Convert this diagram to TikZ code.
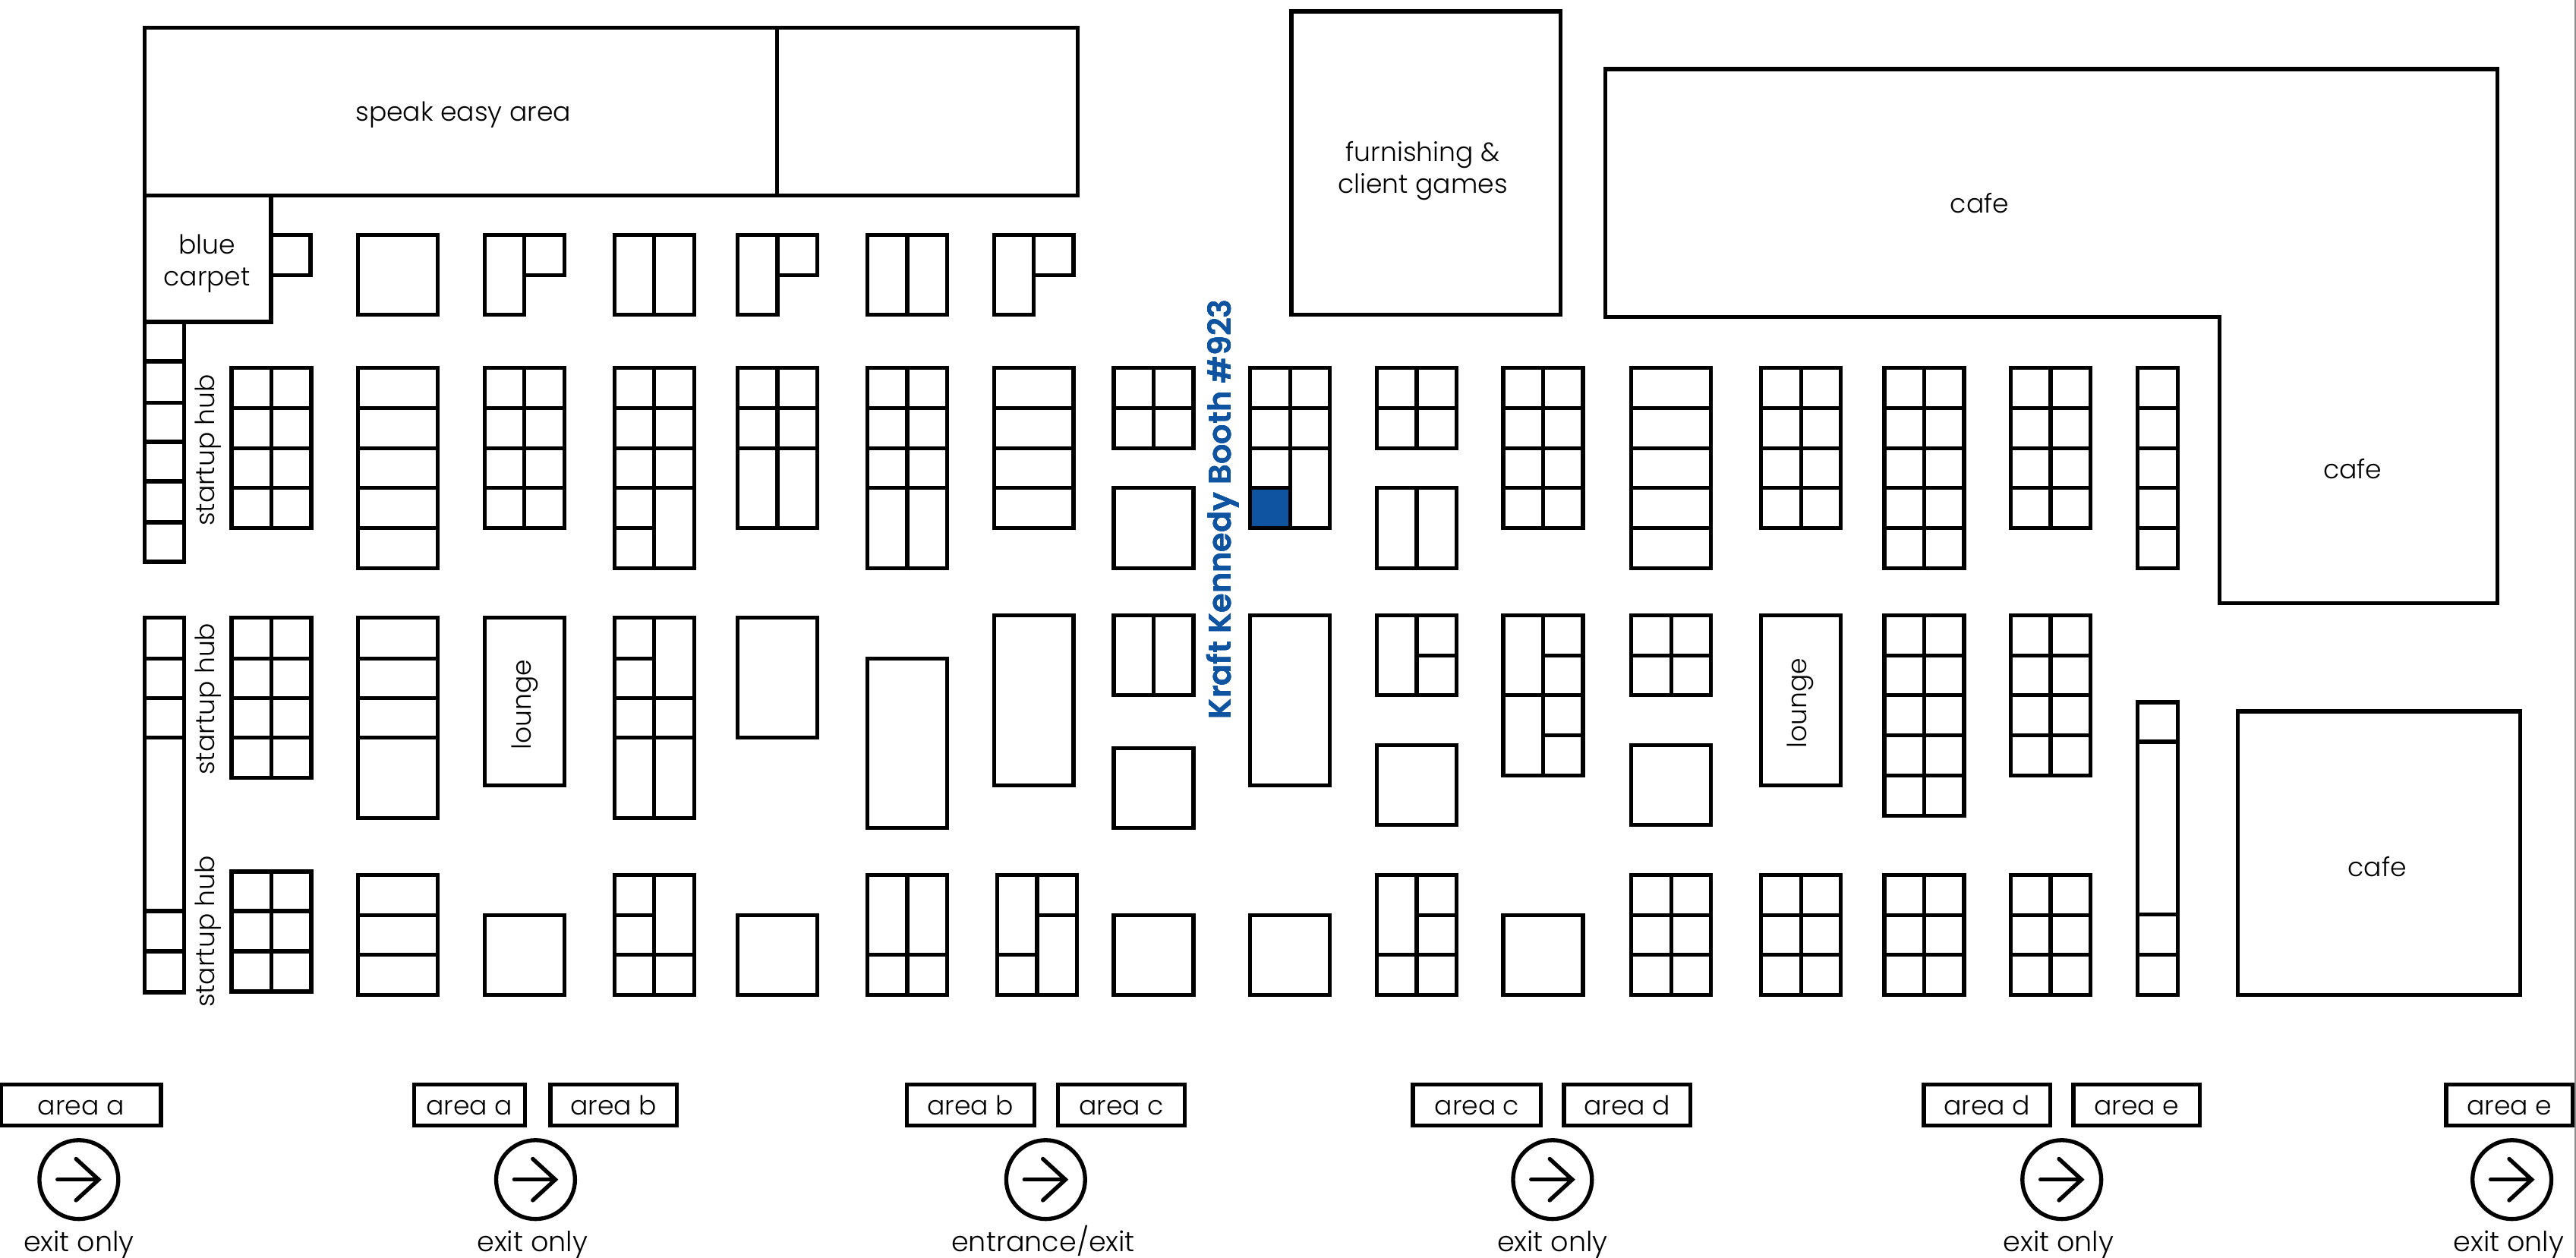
\documentclass[tikz,border=0pt]{standalone}
\usepackage{fontspec}
\setmainfont{Poppins}[UprightFont=* Light,BoldFont=* SemiBold]
\definecolor{kkblue}{RGB}{15,84,160}
\tikzset{
  wall/.style={line width=1.4pt},
  lbl/.style={font=\fontsize{9.1}{10.9}\selectfont,align=center,inner sep=0pt},
  sign/.style={lbl,text height=1.55ex,text depth=0.45ex},
  hub/.style={sign,rotate=90},
}
% booth with a centre wall and full rows
\newcommand{\gridbooth}[4]{%
  \draw[wall] (#1,#2) rectangle ({#1+48.5},#3);
  \draw[wall] ({#1+24.25},#2) -- ({#1+24.25},#3);
  \foreach \y in {#4} \draw[wall] (#1,\y) -- ({#1+48.5},\y);
}
% booth with full rows only
\newcommand{\rowbooth}[4]{%
  \draw[wall] (#1,#2) rectangle ({#1+48.5},#3);
  \foreach \y in {#4} \draw[wall] (#1,\y) -- ({#1+48.5},\y);
}
\begin{document}
\begin{tikzpicture}[x=0.02cm,y=-0.02cm]
  \useasboundingbox (0,0) rectangle (1568,765.3);
  % Page edge
  \draw[black!45,line width=0.4pt] (1567.6,0) -- (1567.6,765.3);
  % Top rooms
  \draw[wall] (88,17) rectangle (656,119);
  \draw[wall] (473,17) -- (473,119);
  \node[lbl] (speak) at (282,70) {speak easy area};
  \draw[wall] (88,119) rectangle (165,196);
  \node[lbl] (carpet) at (126,160.5) {blue\\carpet};
  \draw[wall] (165,143) rectangle (189,167.5);
  \draw[wall] (786,7) rectangle (950,191.5);
  \node[lbl] (games) at (866,104) {furnishing \&\\client games};
  % Cafes
  \draw[wall] (977,42) -- (1520,42) -- (1520,367) -- (1351,367) -- (1351,193) -- (977,193) -- cycle;
  \node[lbl] (cafea) at (1205,123.5) {cafe};
  \node[lbl] (cafeb) at (1432,285.5) {cafe};
  \draw[wall] (1362,433) rectangle (1534,605.5);
  \node[lbl] (cafec) at (1447,527.5) {cafe};
  % Front row
  \draw[wall] (218,143) rectangle (266.5,191.5);
  \foreach \x in {374,528} {
    \draw[wall] (\x,143) rectangle ({\x+48.5},191.5);
    \draw[wall] ({\x+24.25},143) -- ({\x+24.25},191.5);
  }
  \foreach \x in {295,449,605} {
    \draw[wall] (\x,143) rectangle ({\x+24.25},191.5);
    \draw[wall] ({\x+24.25},143) rectangle ({\x+48.5},167.5);
  }
  % Left strips
  \draw[wall] (88,196) rectangle (112,342);
  \foreach \y in {220,245,269,293,318} \draw[wall] (88,\y) -- (112,\y);
  \draw[wall] (88,376) rectangle (112,604);
  \foreach \y in {401,425,449,554.5,579} \draw[wall] (88,\y) -- (112,\y);
  \node[hub] (huba) at (125.5,274) {startup hub};
  \node[hub] (hubb) at (125.5,425.5) {startup hub};
  \node[hub] (hubc) at (125.5,567) {startup hub};
  % Second row
  \foreach \x in {141,295,915,1072,1224} \gridbooth{\x}{224}{321.5}{248.5,273,297}
  \gridbooth{528}{224}{346}{248.5,273,297}
  \gridbooth{1147}{224}{346}{248.5,273,297,321.5}
  \gridbooth{374}{224}{346}{248.5,273,297}
  \draw[wall] (374,321.5) -- (398.25,321.5);
  \gridbooth{449}{224}{321.5}{248.5,273}
  \foreach \x in {218,993} \rowbooth{\x}{224}{346}{248.5,273,297,321.5}
  \rowbooth{605}{224}{321.5}{248.5,273,297}
  \draw[wall] (1301,224) rectangle (1325.5,346);
  \foreach \y in {248.5,273,297,321.5} \draw[wall] (1301,\y) -- (1325.5,\y);
  \foreach \x in {678,838} \gridbooth{\x}{224}{273}{248.5}
  \draw[wall] (678,297) rectangle (726.5,346);
  \gridbooth{761}{224}{321.5}{248.5,273}
  \draw[wall,fill=kkblue] (761,297) rectangle (785.25,321.5);
  \gridbooth{838}{297}{346}{}
  % Third row
  \gridbooth{141}{376}{473.5}{401,425,449}
  \rowbooth{218}{376}{498}{401,425,449}
  \draw[wall] (295,376) rectangle (343.5,478);
  \node[hub] (lounga) at (318,429) {lounge};
  \gridbooth{374}{376}{498}{425,449}
  \draw[wall] (374,401) -- (398.25,401);
  \draw[wall] (449,376) rectangle (497.5,449);
  \draw[wall] (528,401) rectangle (576.5,504);
  \draw[wall] (605,374.5) rectangle (653.5,478);
  \gridbooth{678}{374.5}{423}{}
  \draw[wall] (678,455.5) rectangle (726.5,504);
  \draw[wall] (761,374.5) rectangle (809.5,478);
  \gridbooth{838}{374.5}{423}{}
  \draw[wall] (862.25,399) -- (886.5,399);
  \draw[wall] (838,453.5) rectangle (886.5,502);
  \gridbooth{915}{374.5}{472}{423}
  \draw[wall] (939.25,399) -- (963.5,399);
  \draw[wall] (939.25,447.5) -- (963.5,447.5);
  \gridbooth{993}{374.5}{423}{399}
  \draw[wall] (993,453.5) rectangle (1041.5,502);
  \draw[wall] (1072,374.5) rectangle (1120.5,478);
  \node[hub] (loungb) at (1094.5,428) {lounge};
  \gridbooth{1147}{374.5}{496.5}{399,423,447.5,472}
  \gridbooth{1224}{374.5}{472}{399,423,447.5}
  \draw[wall] (1301,427.5) rectangle (1325.5,605.5);
  \foreach \y in {451.5,556.5,581} \draw[wall] (1301,\y) -- (1325.5,\y);
  % Fourth row
  \gridbooth{141}{530.5}{603.5}{554.5,579}
  \rowbooth{218}{532.5}{605.5}{557,581}
  \foreach \x in {295,449,678,761,915} \draw[wall] (\x,557) rectangle ({\x+48.5},605.5);
  \gridbooth{374}{532.5}{605.5}{581}
  \draw[wall] (374,557) -- (398.25,557);
  \gridbooth{528}{532.5}{605.5}{581}
  \gridbooth{607}{532.5}{605.5}{}
  \draw[wall] (631.25,557) -- (655.5,557);
  \draw[wall] (607,581) -- (631.25,581);
  \gridbooth{838}{532.5}{605.5}{581}
  \draw[wall] (862.25,557) -- (886.5,557);
  \foreach \x in {993,1072,1147,1224} \gridbooth{\x}{532.5}{605.5}{557,581}
  % Booth label
  \node[lbl,rotate=90,text=kkblue,font=\fontsize{10.9}{13}\bfseries\selectfont] (kk) at (744.5,310) {Kraft Kennedy Booth \#923};
  % Area signs
  \foreach \xa/\xb/\t [count=\i] in {0.5/98/area a,252/319.5/area a,335/412/area b,552/629.5/area b,644/721/area c,860/938/area c,952/1029/area d,1171/1248/area d,1262/1339/area e,1489/1566/area e} {
    \draw[wall] (\xa,660) rectangle (\xb,685);
    \node[sign] (area\i) at ({(\xa+\xb)/2},673.5) {\t};
  }
  % Exits
  \foreach \x/\lx/\t [count=\i] in {48/48/exit only,326/324/exit only,636.5/635/entrance\slash exit,945/945/exit only,1255/1253/exit only,1529/1527/exit only} {
    \draw[wall] (\x,718) circle (24);
    \draw[wall,line cap=round] ({\x-13},718) -- ({\x+12},718);
    \draw[wall,line cap=round] ({\x-1.7},705.4) -- ({\x+12},718) -- ({\x-1.7},730.6);
    \node[sign,font=\fontsize{9.6}{11}\selectfont] (exit\i) at (\lx,756.5) {\t};
  }
\end{tikzpicture}
\end{document}
